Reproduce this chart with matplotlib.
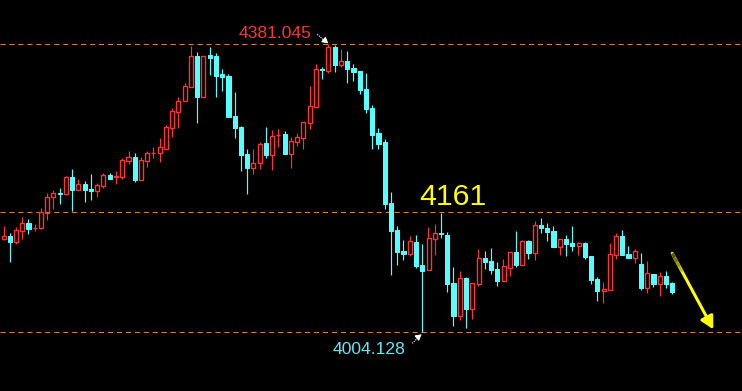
"""Candlestick chart with support/resistance levels, MT4 style, black background."""
import matplotlib
matplotlib.use("Agg")
import matplotlib.pyplot as plt
import numpy as np

opens = [4125.4, 4129.7, 4121.9, 4136.7, 4146.7, 4139.8, 4140.6, 4159.8, 4180.4, 4185.6,
         4184.3, 4206.5, 4190.3, 4197.8, 4190.8, 4189.0, 4195.6, 4209.2, 4207.3, 4207.3,
         4228.3, 4233.1, 4203.4, 4228.3, 4238.0, 4238.7, 4244.0, 4271.5, 4292.4, 4306.8,
         4325.1, 4365.3, 4312.0, 4366.6, 4365.3, 4341.8, 4339.1, 4286.8, 4272.4, 4237.0,
         4219.1, 4224.9, 4251.4, 4236.1, 4261.5, 4263.2, 4237.4, 4253.1, 4258.4, 4277.2,
         4299.0, 4347.9, 4346.1, 4377.1, 4353.9, 4358.8, 4349.6, 4345.7, 4322.1, 4297.2,
         4264.5, 4252.8, 4172.9, 4137.6, 4110.1, 4106.2, 4121.9, 4091.8, 4085.2, 4125.8,
         4133.6, 4131.0, 4068.2, 4025.4, 4074.8, 4034.6, 4067.3, 4100.9, 4097.0, 4086.5,
         4071.2, 4088.5, 4108.8, 4091.8, 4123.2, 4107.9, 4144.1, 4140.2, 4136.3, 4115.3,
         4125.8, 4120.6, 4117.0, 4120.6, 4103.5, 4073.4, 4057.7, 4059.1, 4104.9, 4129.7,
         4106.2, 4101.3, 4093.1, 4061.7, 4080.0, 4066.9, 4077.4, 4068.2]
highs = [4142.8, 4133.3, 4141.1, 4154.6, 4152.0, 4145.4, 4166.0, 4185.6, 4189.9, 4192.5,
         4208.3, 4217.4, 4203.9, 4201.3, 4210.9, 4198.7, 4211.8, 4212.2, 4214.8, 4231.4,
         4241.0, 4238.4, 4232.7, 4241.0, 4246.2, 4258.4, 4275.0, 4297.2, 4311.6, 4330.0,
         4378.4, 4370.1, 4365.3, 4377.1, 4369.2, 4348.3, 4341.8, 4318.2, 4273.7, 4243.6,
         4243.6, 4252.8, 4272.4, 4268.5, 4269.8, 4267.1, 4259.3, 4264.5, 4278.9, 4326.0,
         4354.8, 4350.9, 4381.045, 4379.7, 4374.5, 4371.9, 4354.8, 4346.0, 4343.1, 4301.2,
         4271.1, 4256.7, 4187.3, 4142.8, 4124.5, 4129.7, 4131.0, 4119.3, 4141.5, 4145.4,
         4160.2, 4135.0, 4089.2, 4083.9, 4076.1, 4068.2, 4112.7, 4110.1, 4114.0, 4095.7,
         4099.6, 4108.8, 4136.3, 4124.5, 4124.5, 4149.4, 4153.3, 4146.7, 4142.8, 4125.8,
         4131.0, 4142.8, 4121.5, 4121.5, 4103.8, 4076.1, 4069.5, 4120.6, 4133.6, 4137.6,
         4116.6, 4112.7, 4107.5, 4097.0, 4080.3, 4082.6, 4083.9, 4069.5]
lows = [4125.1, 4096.1, 4119.6, 4126.2, 4132.7, 4136.7, 4138.5, 4150.7, 4165.5, 4172.0,
        4184.0, 4162.4, 4189.9, 4174.2, 4176.8, 4181.2, 4192.9, 4204.3, 4198.2, 4203.9,
        4224.4, 4200.4, 4203.0, 4220.4, 4231.8, 4226.6, 4243.6, 4259.3, 4271.5, 4306.4,
        4324.7, 4278.0, 4312.0, 4340.8, 4312.0, 4319.9, 4285.5, 4258.4, 4215.2, 4184.7,
        4211.3, 4217.8, 4231.8, 4216.5, 4246.2, 4236.7, 4219.1, 4247.5, 4243.6, 4269.8,
        4298.6, 4335.2, 4343.5, 4344.4, 4351.3, 4330.4, 4333.0, 4315.6, 4290.7, 4243.6,
        4243.6, 4165.5, 4078.7, 4091.8, 4098.3, 4103.5, 4087.8, 4004.128, 4084.9, 4104.9,
        4126.7, 4056.4, 4012.3, 4020.2, 4009.7, 4021.5, 4064.7, 4086.5, 4080.0, 4064.7,
        4071.0, 4077.4, 4089.2, 4091.5, 4099.6, 4098.3, 4133.6, 4123.2, 4115.0, 4104.9,
        4103.5, 4110.1, 4104.9, 4099.6, 4066.9, 4044.7, 4042.0, 4058.8, 4099.6, 4104.9,
        4100.9, 4094.4, 4059.1, 4055.1, 4063.0, 4051.2, 4061.7, 4053.8]
closes = [4129.3, 4122.3, 4137.6, 4146.3, 4139.3, 4140.2, 4161.1, 4180.4, 4185.6, 4184.7,
          4206.5, 4189.9, 4197.4, 4190.3, 4189.0, 4196.1, 4209.6, 4204.7, 4208.3, 4228.8,
          4232.7, 4203.4, 4228.8, 4238.0, 4238.4, 4245.8, 4272.0, 4293.3, 4306.4, 4325.6,
          4365.3, 4312.0, 4365.3, 4363.1, 4339.5, 4337.8, 4285.9, 4271.1, 4235.7, 4218.7,
          4225.3, 4250.1, 4235.7, 4260.6, 4261.9, 4237.0, 4254.1, 4258.9, 4278.9, 4299.9,
          4348.3, 4346.6, 4377.1, 4353.5, 4358.4, 4348.7, 4344.4, 4320.8, 4295.9, 4261.9,
          4250.1, 4171.6, 4136.3, 4108.8, 4106.2, 4123.2, 4090.5, 4083.9, 4127.1, 4133.6,
          4132.3, 4067.3, 4025.4, 4074.4, 4034.6, 4068.2, 4100.5, 4096.1, 4085.6, 4071.2,
          4090.5, 4108.8, 4091.8, 4123.2, 4107.5, 4143.7, 4140.2, 4135.4, 4115.3, 4125.8,
          4119.3, 4116.6, 4120.2, 4102.2, 4072.1, 4057.7, 4060.4, 4106.2, 4129.7, 4105.2,
          4101.3, 4110.1, 4061.7, 4081.3, 4066.9, 4077.4, 4066.9, 4056.4]

levels = [4381.045, 4161.1, 4004.128]
high_label = "4381.045"
low_label = "4004.128"
mid_label = "4161"

UP = "#ff3333"
DOWN = "#55ffff"
LEVEL = "#ff7a00"
FONT = ["Liberation Sans", "DejaVu Sans"]

fig = plt.figure(figsize=(7.42, 3.91), dpi=100, facecolor="black")
ax = fig.add_axes([0, 0, 1, 1])
ax.set_facecolor("black")

o, h, l, c = (np.array(v) for v in (opens, highs, lows, closes))
x = np.arange(len(o))
up = c >= o
top = np.maximum(o, c)
bot = np.minimum(o, c)
dn = ~up

for y in levels:
    ax.axhline(y, color=LEVEL, lw=0.75, dashes=(4.8, 3.8), zorder=1)

# wicks (split around the hollow up bodies)
ax.vlines(x[dn], l[dn], h[dn], color=DOWN, lw=0.85, zorder=2)
ax.vlines(x[up], top[up], h[up], color=UP, lw=0.85, zorder=2)
ax.vlines(x[up], l[up], bot[up], color=UP, lw=0.85, zorder=2)
# bodies
ax.bar(x[dn], (top - bot)[dn], bottom=bot[dn], width=0.66,
       color=DOWN, edgecolor=DOWN, lw=0.75, zorder=3)
ax.bar(x[up], (top - bot)[up], bottom=bot[up], width=0.64,
       facecolor="none", edgecolor=UP, lw=1.0, zorder=3)

# labels
ax.text(43.44, 4388.5, high_label, color=UP, fontsize=12.6, family=FONT,
        ha="center", va="baseline")
ax.text(58.56, 3975.3, low_label, color="#5ce8f8", fontsize=12.6, family=FONT,
        ha="center", va="baseline")
ax.text(71.84, 4170.3, mid_label, color="#ffff00", fontsize=21.8, family=FONT,
        ha="center", va="baseline")

# small dotted pointers to the extremes
ax.plot([50.2, 51.6], [4393.7, 4383.6], color="white", lw=0.8, ls=(0, (1, 1)))
ax.annotate("", xy=(51.97, 4381.9), xytext=(51.5, 4385.0),
            arrowprops=dict(arrowstyle="-|>,head_length=0.35,head_width=0.2",
                            color="white", lw=0.8, shrinkA=0, shrinkB=0))
ax.plot([65.4, 66.6], [3989.3, 3999.0], color="white", lw=0.8, ls=(0, (1, 1)))
ax.annotate("", xy=(66.9, 4001.1), xytext=(66.4, 3997.8),
            arrowprops=dict(arrowstyle="-|>,head_length=0.35,head_width=0.2",
                            color="white", lw=0.8, shrinkA=0, shrinkB=0))

# yellow forecast arrow, dim at its tail
x0, y0, x1, y1 = 107.0, 4107.1, 113.57, 4007.6
ax.annotate("", xy=(x1, y1), xytext=(x0, y0),
            arrowprops=dict(arrowstyle="-|>,head_length=0.75,head_width=0.4",
                            color="#ffff00", lw=2.2, shrinkA=0, shrinkB=0))
for k, shade in enumerate(["#5a5a00", "#7a7a00", "#9a9a00", "#c0c000"]):
    t0, t1 = k * 0.06, (k + 1) * 0.06
    ax.plot([x0 + (x1 - x0) * t0, x0 + (x1 - x0) * t1],
            [y0 + (y1 - y0) * t0, y0 + (y1 - y0) * t1],
            color=shade, lw=2.2, solid_capstyle="butt", zorder=4)

ax.set_xlim(-0.56, 118.16)
ax.set_ylim(3926.9, 4438.6)
ax.axis("off")

fig.savefig("out.png", dpi=100, facecolor="black")
